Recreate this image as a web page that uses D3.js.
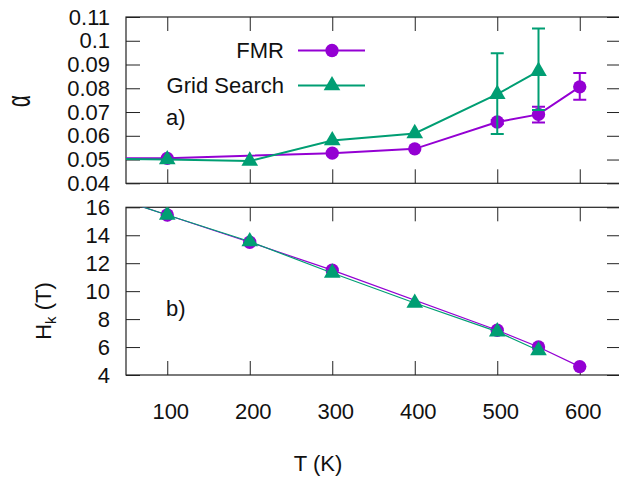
<!DOCTYPE html>
<html>
<head>
<meta charset="utf-8">
<script src="https://cdn.jsdelivr.net/npm/d3@7"></script>
<style>
  body { margin: 0; background: #fff; }
  svg { display: block; font-family: "Liberation Sans", Arial, sans-serif; }
  .axis path { display: none; }
  .axis line { stroke: #222; stroke-width: 1; }
  .axis text { font-size: 22px; fill: #111; }
</style>
</head>
<body>
<script>
// temperatures (K); the first point sits left of the visible range
var tempsFmrA = [ 10, 100, 300, 400, 500, 550, 600 ];
var alphaFmr = [ 0.0505, 0.0505, 0.0527, 0.0545, 0.0658, 0.0690, 0.0806 ];
var alphaFmrLo = [ null, null, null, null, 0.0650, 0.0656, 0.0752 ];
var alphaFmrHi = [ null, null, null, null, 0.0666, 0.0722, 0.0864 ];

var tempsGridA = [ 10, 100, 200, 300, 400, 500, 550 ];
var alphaGrid = [ 0.0505, 0.0500, 0.0494, 0.0580, 0.0610, 0.0775, 0.0872 ];
var alphaGridLo = [ null, null, null, null, null, 0.0607, 0.0709 ];
var alphaGridHi = [ null, null, null, null, null, 0.0947, 0.1052 ];

var tempsFmrB = [ 10, 100, 200, 300, 500, 550, 600 ];
var hkFmr = [ 17.2, 15.45, 13.5, 11.5, 7.2, 6.0, 4.6 ];

var tempsGridB = [ 10, 100, 200, 300, 400, 500, 550 ];
var hkGrid = [ 17.2, 15.45, 13.55, 11.3, 9.15, 7.1, 5.75 ];

var xTicks = [ 100, 200, 300, 400, 500, 600 ];
var alphaTicks = [ 0.04, 0.05, 0.06, 0.07, 0.08, 0.09, 0.1, 0.11 ];
var hkTicks = [ 4, 6, 8, 10, 12, 14, 16 ];

var colors = { fmr: '#9400d3', grid: '#009e73' };

var width = 619;
var height = 477;
var tickLen = 14;

var svg = d3.select( 'body' ).append( 'svg' )
	.attr( 'width', width )
	.attr( 'height', height );

var scales = {};
scales.x = d3.scaleLinear().domain( [ 50, 650 ] ).range( [ 126, 621 ] );
scales.yA = d3.scaleLinear().domain( [ 0.04, 0.11 ] ).range( [ 183.3, 17 ] );
scales.yB = d3.scaleLinear().domain( [ 4, 16 ] ).range( [ 375, 207.3 ] );

var zip = function ( xs, ys, lo, hi ) {
	return xs.map( function ( x, i ) {
		return { x: x, y: ys[i], lo: lo ? lo[i] : null, hi: hi ? hi[i] : null };
	} );
};

var drawPanel = function ( name, yScale, ticks, fmt, showXLabels ) {
	var top = yScale.range()[1];
	var bottom = yScale.range()[0];
	var left = scales.x.range()[0];
	var right = scales.x.range()[1];

	svg.append( 'clipPath' ).attr( 'id', 'clip-' + name )
		.append( 'rect' )
		.attr( 'x', left ).attr( 'y', top )
		.attr( 'width', right - left ).attr( 'height', bottom - top );

	// left axis with labels, right axis mirror ticks
	svg.append( 'g' ).classed( 'axis', true )
		.attr( 'transform', 'translate(' + left + ',0)' )
		.call( d3.axisRight( yScale ).tickValues( ticks ).tickSize( tickLen ).tickFormat( '' ) );
	svg.append( 'g' ).classed( 'axis', true )
		.attr( 'transform', 'translate(' + left + ',0)' )
		.call( d3.axisLeft( yScale ).tickValues( ticks ).tickSize( 0 ).tickPadding( 16 ).tickFormat( fmt ) );
	svg.append( 'g' ).classed( 'axis', true )
		.attr( 'transform', 'translate(' + right + ',0)' )
		.call( d3.axisLeft( yScale ).tickValues( ticks ).tickSize( tickLen ).tickFormat( '' ) );

	// top and bottom ticks
	svg.append( 'g' ).classed( 'axis', true )
		.attr( 'transform', 'translate(0,' + top + ')' )
		.call( d3.axisBottom( scales.x ).tickValues( xTicks ).tickSize( tickLen ).tickFormat( '' ) );
	svg.append( 'g' ).classed( 'axis', true )
		.attr( 'transform', 'translate(0,' + bottom + ')' )
		.call( d3.axisTop( scales.x ).tickValues( xTicks ).tickSize( tickLen ).tickFormat( '' ) );
	if ( showXLabels ) {
		svg.append( 'g' ).classed( 'axis', true )
			.attr( 'transform', 'translate(3,' + bottom + ')' )
			.call( d3.axisBottom( scales.x ).tickValues( xTicks ).tickSize( 0 ).tickPadding( 28 ) );
	}

	svg.append( 'rect' )
		.attr( 'x', left ).attr( 'y', top )
		.attr( 'width', right - left ).attr( 'height', bottom - top )
		.style( 'fill', 'none' ).style( 'stroke', '#222' ).style( 'stroke-width', 1.2 );

	return svg.append( 'g' ).attr( 'clip-path', 'url(#clip-' + name + ')' );
};

var circle = d3.symbol().type( d3.symbolCircle ).size( 140 );
var triangle = d3.symbol().type( d3.symbolTriangle ).size( 120 );

var drawSeries = function ( g, data, yScale, color, symbol, lineWidth ) {
	var line = d3.line()
		.x( function ( d ) { return scales.x( d.x ); } )
		.y( function ( d ) { return yScale( d.y ); } );

	g.append( 'path' ).datum( data )
		.attr( 'd', line )
		.style( 'fill', 'none' )
		.style( 'stroke', color )
		.style( 'stroke-width', lineWidth );

	var bars = data.filter( function ( d ) { return d.lo !== null; } );
	bars.forEach( function ( d ) {
		var x = scales.x( d.x );
		var bar = g.append( 'g' ).style( 'stroke', color ).style( 'stroke-width', 2 );
		bar.append( 'line' ).attr( 'x1', x ).attr( 'x2', x )
			.attr( 'y1', yScale( d.lo ) ).attr( 'y2', yScale( d.hi ) );
		[ d.lo, d.hi ].forEach( function ( v ) {
			bar.append( 'line' ).attr( 'x1', x - 6.5 ).attr( 'x2', x + 6.5 )
				.attr( 'y1', yScale( v ) ).attr( 'y2', yScale( v ) );
		} );
	} );

	g.selectAll( null ).data( data ).enter()
		.append( 'path' )
		.attr( 'd', symbol )
		.attr( 'transform', function ( d ) {
			return 'translate(' + scales.x( d.x ) + ',' + yScale( d.y ) + ')';
		} )
		.style( 'fill', color );
};

var gA = drawPanel( 'a', scales.yA, alphaTicks, function ( d ) { return String( +d.toFixed( 2 ) ); }, false );
drawSeries( gA, zip( tempsFmrA, alphaFmr, alphaFmrLo, alphaFmrHi ), scales.yA, colors.fmr, circle, 2 );
drawSeries( gA, zip( tempsGridA, alphaGrid, alphaGridLo, alphaGridHi ), scales.yA, colors.grid, triangle, 2 );

var gB = drawPanel( 'b', scales.yB, hkTicks, d3.format( 'd' ), true );
drawSeries( gB, zip( tempsFmrB, hkFmr ), scales.yB, colors.fmr, circle, 1.2 );
drawSeries( gB, zip( tempsGridB, hkGrid ), scales.yB, colors.grid, triangle, 1.2 );

// legend
var legend = svg.append( 'g' );
[ { name: 'FMR', color: colors.fmr, symbol: circle, y: 50.5 },
  { name: 'Grid Search', color: colors.grid, symbol: triangle, y: 85.5 } ].forEach( function ( d ) {
	legend.append( 'text' )
		.attr( 'x', 284 ).attr( 'y', d.y ).attr( 'dy', '0.36em' )
		.attr( 'text-anchor', 'end' )
		.style( 'font-size', '22px' ).style( 'fill', '#111' )
		.text( d.name );
	legend.append( 'line' )
		.attr( 'x1', 298 ).attr( 'x2', 365 ).attr( 'y1', d.y ).attr( 'y2', d.y )
		.style( 'stroke', d.color ).style( 'stroke-width', 2 );
	legend.append( 'path' ).attr( 'd', d.symbol )
		.attr( 'transform', 'translate(332,' + d.y + ')' )
		.style( 'fill', d.color );
} );

// panel tags
svg.append( 'text' ).attr( 'x', 166 ).attr( 'y', 117 ).attr( 'dy', '0.36em' )
	.style( 'font-size', '22px' ).style( 'fill', '#111' ).text( 'a)' );
svg.append( 'text' ).attr( 'x', 166 ).attr( 'y', 308 ).attr( 'dy', '0.36em' )
	.style( 'font-size', '22px' ).style( 'fill', '#111' ).text( 'b)' );

// axis titles
svg.append( 'text' )
	.attr( 'transform', 'translate(20,101) rotate(-90) scale(0.85,1.35)' )
	.attr( 'text-anchor', 'middle' ).attr( 'dy', '0.3em' )
	.style( 'font-size', '24px' ).style( 'fill', '#111' )
	.text( 'α' );

var hk = svg.append( 'text' )
	.attr( 'transform', 'translate(43,311) rotate(-90)' )
	.attr( 'text-anchor', 'middle' ).attr( 'dy', '0.36em' )
	.style( 'font-size', '22px' ).style( 'fill', '#111' );
hk.append( 'tspan' ).text( 'H' );
hk.append( 'tspan' ).attr( 'dy', 5 ).style( 'font-size', '15px' ).text( 'k' );
hk.append( 'tspan' ).attr( 'dy', -5 ).text( ' (T)' );

svg.append( 'text' )
	.attr( 'x', 318 ).attr( 'y', 463 ).attr( 'dy', '0.36em' )
	.attr( 'text-anchor', 'middle' )
	.style( 'font-size', '22px' ).style( 'fill', '#111' )
	.text( 'T (K)' );
</script>
</body>
</html>
